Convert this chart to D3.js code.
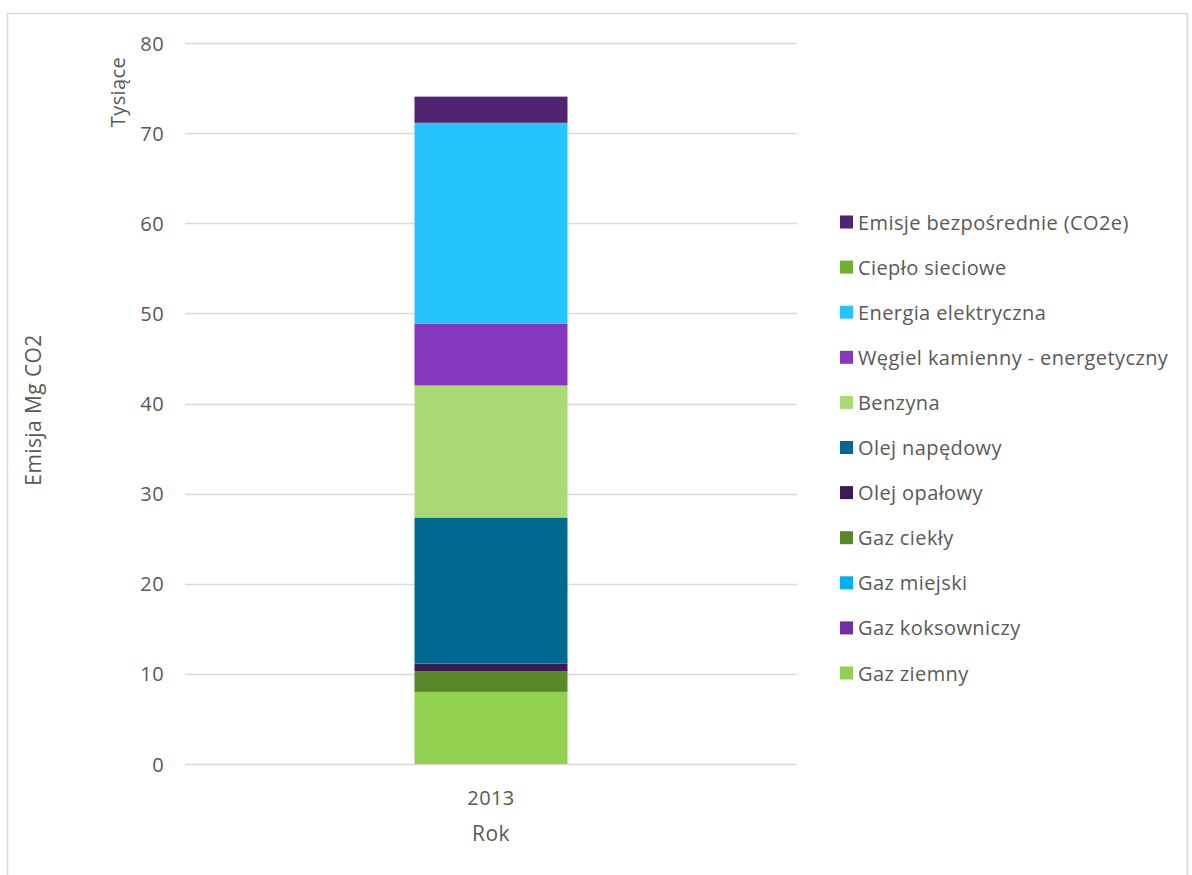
<!DOCTYPE html>
<html>
<head>
<meta charset="utf-8">
<script src="https://cdn.jsdelivr.net/npm/d3@7"></script>
<style>
  body { margin: 0; background: #fff; }
  text { font-family: "Open Sans", "Liberation Sans", sans-serif; fill: #595959; letter-spacing: 0.4px; }
</style>
</head>
<body>
<svg id="chart" width="1192" height="875"></svg>
<script>
// dane (tysiące Mg CO2), od dołu słupka do góry
const years = ["2013"];
const series = [
  "Gaz ziemny", "Gaz koksowniczy", "Gaz miejski", "Gaz ciekły", "Olej opałowy",
  "Olej napędowy", "Benzyna", "Węgiel kamienny - energetyczny",
  "Energia elektryczna", "Ciepło sieciowe", "Emisje bezpośrednie (CO2e)"
];
const values2013 = [8.0, 0, 0, 2.3, 0.85, 16.2, 14.65, 6.85, 22.3, 0, 2.9];
const colors = [
  "#92d050", "#7030a0", "#00b0f0", "#5a8828", "#3d1c56",
  "#006990", "#abd975", "#8538be", "#26c4ff", "#70b030", "#512370"
];
const yTicks = [0, 10, 20, 30, 40, 50, 60, 70, 80];

const svg = d3.select("#chart");

// ramka wykresu
svg.append("rect")
  .attr("x", 7.5).attr("y", 13.5)
  .attr("width", 1180).attr("height", 880)
  .attr("fill", "none").attr("stroke", "#d9d9d9").attr("stroke-width", 1.5);

const x = d3.scaleBand().domain(years).range([185, 797]).paddingInner(0.6).paddingOuter(0.6);
const y = d3.scaleLinear().domain([0, 80]).range([764, 43]);

// siatka
svg.append("g")
  .selectAll("line")
  .data(yTicks)
  .join("line")
  .attr("x1", 185).attr("x2", 797)
  .attr("y1", d => Math.round(y(d)) + 0.5).attr("y2", d => Math.round(y(d)) + 0.5)
  .attr("stroke", "#d9d9d9").attr("stroke-width", 1.3);

// etykiety osi Y
svg.append("g")
  .selectAll("text")
  .data(yTicks)
  .join("text")
  .attr("x", 164).attr("y", d => y(d))
  .attr("text-anchor", "end").attr("dominant-baseline", "central")
  .attr("font-size", "20px")
  .text(d => d);

// stos
const table = years.map(yr => {
  const row = { year: yr };
  series.forEach((s, i) => row[s] = values2013[i]);
  return row;
});
const stacked = d3.stack().keys(series)(table);

svg.append("g")
  .selectAll("g")
  .data(stacked)
  .join("g")
  .attr("fill", (d, i) => colors[i])
  .selectAll("rect")
  .data(d => d)
  .join("rect")
  .attr("x", d => x(d.data.year))
  .attr("width", x.bandwidth())
  .attr("y", d => y(d[1]))
  .attr("height", d => y(d[0]) - y(d[1]));

// etykieta osi X
svg.append("g")
  .selectAll("text")
  .data(years)
  .join("text")
  .attr("x", d => x(d) + x.bandwidth() / 2).attr("y", 797)
  .attr("text-anchor", "middle").attr("dominant-baseline", "central")
  .attr("font-size", "20px")
  .text(d => d);

svg.append("text")
  .attr("x", 491).attr("y", 833)
  .attr("text-anchor", "middle").attr("dominant-baseline", "central")
  .attr("font-size", "21px")
  .text("Rok");

svg.append("text")
  .attr("transform", "translate(33,410) rotate(-90)")
  .attr("text-anchor", "middle").attr("dominant-baseline", "central")
  .attr("font-size", "21px")
  .text("Emisja Mg CO2");

svg.append("text")
  .attr("transform", "translate(117,92) rotate(-90)")
  .attr("text-anchor", "middle").attr("dominant-baseline", "central")
  .attr("font-size", "20px")
  .text("Tysiące");

// legenda (odwrotna kolejność)
const legendItems = series.map((s, i) => ({ name: s, color: colors[i] })).reverse();
const legend = svg.append("g")
  .selectAll("g")
  .data(legendItems)
  .join("g")
  .attr("transform", (d, i) => `translate(840,${222 + i * 45.1})`);

legend.append("rect")
  .attr("x", 0).attr("y", -6.5)
  .attr("width", 13).attr("height", 13)
  .attr("fill", d => d.color);

legend.append("text")
  .attr("x", 18).attr("y", 0)
  .attr("dominant-baseline", "central")
  .attr("font-size", "20px")
  .text(d => d.name);
</script>
</body>
</html>
